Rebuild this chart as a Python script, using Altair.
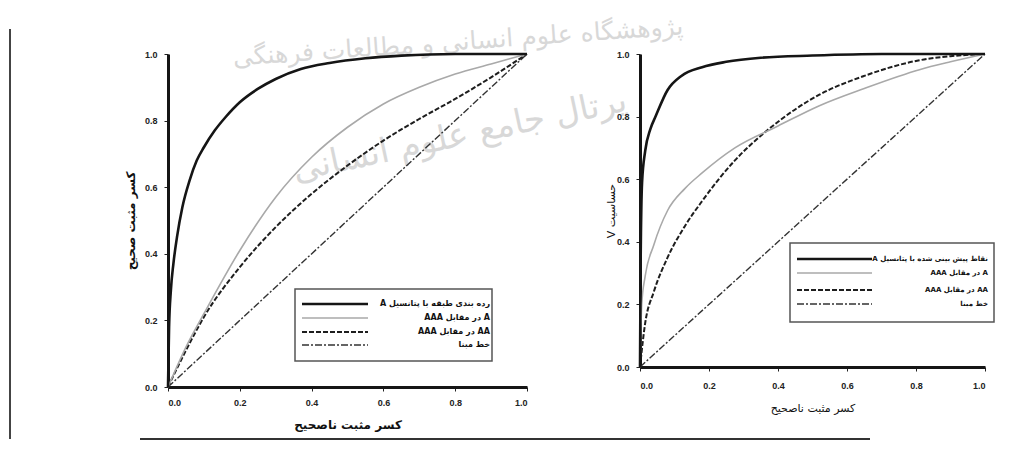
import altair as alt
import pandas as pd

# ---------------- data ----------------
TICKS = [0.0, 0.2, 0.4, 0.6, 0.8, 1.0]

# left panel
L_black_x = [0, 0.003, 0.008, 0.015, 0.025, 0.04, 0.06, 0.08, 0.1, 0.13, 0.16, 0.2, 0.25, 0.3, 0.37, 0.45, 0.55, 0.65, 0.8, 1.0]
L_black_y = [0, 0.18, 0.29, 0.37, 0.45, 0.54, 0.62, 0.68, 0.72, 0.77, 0.81, 0.855, 0.895, 0.925, 0.955, 0.973, 0.987, 0.995, 1.0, 1.0]
L_gray_x = [0, 0.05, 0.1, 0.2, 0.3, 0.4, 0.5, 0.6, 0.7, 0.8, 0.9, 1.0]
L_gray_y = [0, 0.12, 0.22, 0.41, 0.57, 0.69, 0.78, 0.85, 0.9, 0.94, 0.97, 1.0]
L_dash_x = [0, 0.05, 0.1, 0.2, 0.3, 0.4, 0.5, 0.6, 0.7, 0.8, 0.9, 1.0]
L_dash_y = [0, 0.11, 0.21, 0.36, 0.48, 0.58, 0.665, 0.74, 0.805, 0.865, 0.93, 1.0]
L_diag_x = [0, 1]
L_diag_y = [0, 1]

# right panel
R_black_x = [0, 0.002, 0.006, 0.015, 0.03, 0.045, 0.08, 0.12, 0.18, 0.25, 0.35, 0.5, 0.7, 1.0]
R_black_y = [0, 0.35, 0.59, 0.69, 0.76, 0.80, 0.885, 0.93, 0.958, 0.975, 0.988, 0.995, 1.0, 1.0]
R_gray_x = [0, 0.005, 0.015, 0.04, 0.08, 0.13, 0.18, 0.275, 0.4, 0.52, 0.65, 0.81, 0.9, 1.0]
R_gray_y = [0, 0.2, 0.29, 0.39, 0.50, 0.57, 0.62, 0.70, 0.77, 0.835, 0.89, 0.95, 0.975, 1.0]
R_dash_x = [0, 0.015, 0.04, 0.08, 0.13, 0.18, 0.275, 0.37, 0.52, 0.65, 0.81, 0.9, 1.0]
R_dash_y = [0, 0.14, 0.24, 0.35, 0.45, 0.53, 0.66, 0.757, 0.87, 0.93, 0.98, 0.993, 1.0]
R_diag_x = [0, 1]
R_diag_y = [0, 1]

RLE, PDF = "\u202b", "\u202c"
L_legend = ["رده بندی طبقه با پتانسیل A", "A در مقابل AAA", "AA در مقابل AAA", "خط مبنا"]
R_legend = ["نقاط پیش بینی شده با پتانسیل A", "A در مقابل AAA", "AA در مقابل AAA", "خط مبنا"]

L_xtitle = "کسر مثبت ناصحیح"
L_ytitle = "کسر مثبت صحیح"
R_xtitle = "کسر مثبت ناصحیح"
R_ytitle = "حساسیت V"
WM1 = "پژوهشگاه علوم انسانی و مطالعات فرهنگی"
WM2 = "پرتال جامع علوم انسانی"

# ---------------- styles ----------------
STYLES = [  # drawing order: diagonal, dashed, gray, black
    dict(color="#333333", strokeWidth=1.4, strokeDash=[7, 2, 2, 2]),
    dict(color="#1e1e1e", strokeWidth=2.0, strokeDash=[5, 2]),
    dict(color="#a9a9a9", strokeWidth=1.6),
    dict(color="#151515", strokeWidth=2.6),
]
LEG_STYLES = [STYLES[3], STYLES[2], STYLES[1], STYLES[0]]
FONT_AR = "DejaVu Sans"
FONT_NUM = "Liberation Sans"
ONE = alt.Data(values=[{"k": 1}])


def axes(xtitle, ytitle, bold, xlabpad, xtitpad, ytitpad, tsize):
    common = dict(values=TICKS, format=".1f", grid=False, domainWidth=3, domainColor="#151515",
                  tickColor="#222", tickSize=4, labelFont=FONT_NUM, labelFontSize=9,
                  labelFontWeight="bold", labelColor="#222", titleFont=FONT_AR,
                  titleFontSize=tsize, titleFontWeight="bold" if bold else "normal", titleColor="#111")
    ax = alt.Axis(title=RLE + xtitle + PDF, labelPadding=xlabpad, titlePadding=xtitpad, **common)
    ay = alt.Axis(title=RLE + ytitle + PDF, labelPadding=7, titlePadding=ytitpad, **common)
    sc = alt.Scale(domain=[0, 1], nice=False, zero=False)
    return (lambda: alt.X("x:Q", scale=sc, axis=ax)), (lambda: alt.Y("y:Q", scale=sc, axis=ay))


def panel(series, legend, leg, ax_args, w, h, extra=()):
    X, Y = axes(*ax_args)
    layers = list(extra)
    for (xs, ys), st in zip(series, STYLES):
        layers.append(alt.Chart(pd.DataFrame({"x": xs, "y": ys}))
                      .mark_line(interpolate="monotone", **st)
                      .encode(x=X(), y=Y()))
    bx0, bx1, by0, by1, lx0, lx1, tx, rows, fs = leg
    layers.append(alt.Chart(ONE).mark_rect(fill="white", stroke="#555", strokeWidth=1.5)
                  .encode(x=alt.value(bx0), x2=alt.value(bx1), y=alt.value(by0), y2=alt.value(by1)))
    for lab, ry, st in zip(legend, rows, LEG_STYLES):
        layers.append(alt.Chart(ONE).mark_rule(**st)
                      .encode(x=alt.value(lx0), x2=alt.value(lx1), y=alt.value(ry)))
        layers.append(alt.Chart(ONE).mark_text(align="right", baseline="middle", font=FONT_AR,
                                              fontSize=fs, fontWeight="bold", color="#111")
                      .encode(x=alt.value(tx), y=alt.value(ry), text=alt.value(RLE + lab + PDF)))
    return alt.layer(*layers).properties(width=w, height=h)


deco = [
    alt.Chart(ONE).mark_text(font=FONT_AR, fontSize=25, color="#d8d8d8", angle=356)
    .encode(x=alt.value(290), y=alt.value(-12), text=alt.value(RLE + WM1 + PDF)),
    alt.Chart(ONE).mark_text(font=FONT_AR, fontSize=34, color="#d8d8d8", angle=348)
    .encode(x=alt.value(292), y=alt.value(82), text=alt.value(RLE + WM2 + PDF)),
    alt.Chart(ONE).mark_rule(color="#444", strokeWidth=2)
    .encode(x=alt.value(-158), y=alt.value(-25), y2=alt.value(385)),
    alt.Chart(ONE).mark_rule(color="#333", strokeWidth=2)
    .encode(x=alt.value(-28), x2=alt.value(702), y=alt.value(385)),
]

left = panel(
    [(L_diag_x, L_diag_y), (L_dash_x, L_dash_y), (L_gray_x, L_gray_y), (L_black_x, L_black_y)],
    L_legend,
    (127, 324, 235, 307, 134, 200, 322, [250, 264, 278, 291], 8),
    (L_xtitle, L_ytitle, True, 7, 12, 7, 12),
    359, 333, extra=deco,
)

right = panel(
    [(R_diag_x, R_diag_y), (R_dash_x, R_dash_y), (R_gray_x, R_gray_y), (R_black_x, R_black_y)],
    R_legend,
    (150, 354, 189, 268, 157, 232, 348, [205, 219, 236, 250], 7),
    (R_xtitle, R_ytitle, False, 10, 12, 0, 11),
    345, 313,
)

chart = (alt.hconcat(left, right, spacing=113, bounds="flush")
         .properties(padding={"left": 1, "top": 6, "right": 0, "bottom": 0}, background="white")
         .configure_view(stroke=None))

chart.save("out.html", embed_options={"renderer": "svg", "actions": False})
